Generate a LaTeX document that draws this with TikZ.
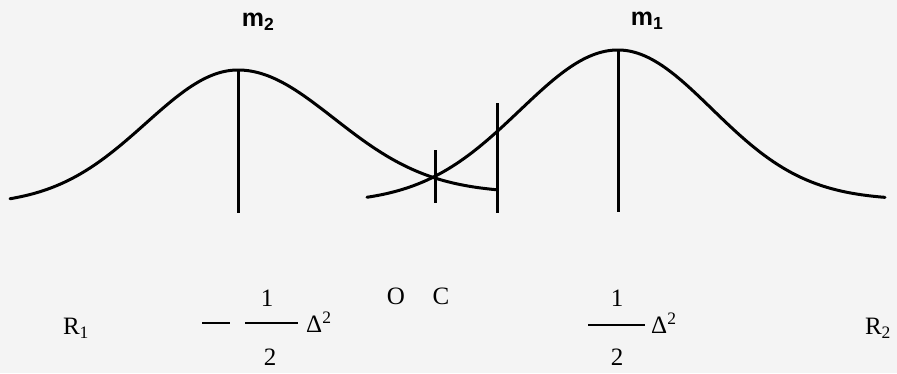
\documentclass[tikz,border=0pt]{standalone}
\usepackage{fontspec}
\setmainfont{Liberation Serif}
\newfontfamily\lblsans{Liberation Sans}
\begin{document}
\begin{tikzpicture}[x=1pt,y=-1pt,
  curve/.style={line width=3pt,line cap=round,line join=round},
  tick/.style={line width=3pt},
  lbl/.style={inner sep=0pt,font=\fontsize{25}{29}\selectfont},
  mlbl/.style={inner sep=0pt,font=\lblsans\bfseries\fontsize{25}{29}\selectfont},
  frac/.style={line width=1.6pt}]
\fill[gray!9] (0,0) rectangle (897,373);
\useasboundingbox (0,0) rectangle (897,373);
% curve m2
\draw[curve] plot[domain=10:238,samples=70] (\x,{205-135*exp(-0.5*((\x-238)/92)^2)})
  -- plot[domain=238:497,samples=80] (\x,{193-123*exp(-0.5*((\x-238)/96)^2)});
% curve m1
\draw[curve] plot[domain=367:618,samples=80] (\x,{203-153*exp(-0.5*((\x-618)/98)^2)})
  -- plot[domain=618:885,samples=80] (\x,{200-150*exp(-0.5*((\x-618)/94)^2)});
% vertical lines
\coordinate (a1) at (238,70);  \coordinate (a2) at (238,213);
\coordinate (b1) at (435,150); \coordinate (b2) at (435,203);
\coordinate (c1) at (497,103); \coordinate (c2) at (497,213);
\coordinate (d1) at (618,50);  \coordinate (d2) at (618,212);
\draw[tick] (a1) -- (a2);
\draw[tick] (b1) -- (b2);
\draw[tick] (c1) -- (c2);
\draw[tick] (d1) -- (d2);
% top labels
\node[mlbl] (m2) at (258,22) {m\textsubscript{2}};
\node[mlbl] (m1) at (647,21) {m\textsubscript{1}};
% bottom labels
\node[lbl] (r1) at (76,328) {R\textsubscript{1}};
\node[lbl] (r2) at (878,328) {R\textsubscript{2}};
\node[lbl] (o) at (396,296) {O};
\node[lbl] (c) at (441,296) {C};
% left fraction
\coordinate (mn1) at (202,323); \coordinate (mn2) at (230,323);
\draw[frac] (mn1) -- (mn2);
\coordinate (fl1) at (245,323); \coordinate (fl2) at (298,323);
\draw[frac] (fl1) -- (fl2);
\node[lbl] (n1) at (267,298) {1};
\node[lbl] (d1l) at (270,357) {2};
\node[lbl,anchor=west] (dl) at (306,322) {Δ\textsuperscript{2}};
% right fraction
\coordinate (fr1) at (588,325); \coordinate (fr2) at (645,325);
\draw[frac] (fr1) -- (fr2);
\node[lbl] (n2) at (617,298) {1};
\node[lbl] (d2r) at (617,357) {2};
\node[lbl,anchor=west] (dr) at (651,323) {Δ\textsuperscript{2}};
\end{tikzpicture}
\end{document}
